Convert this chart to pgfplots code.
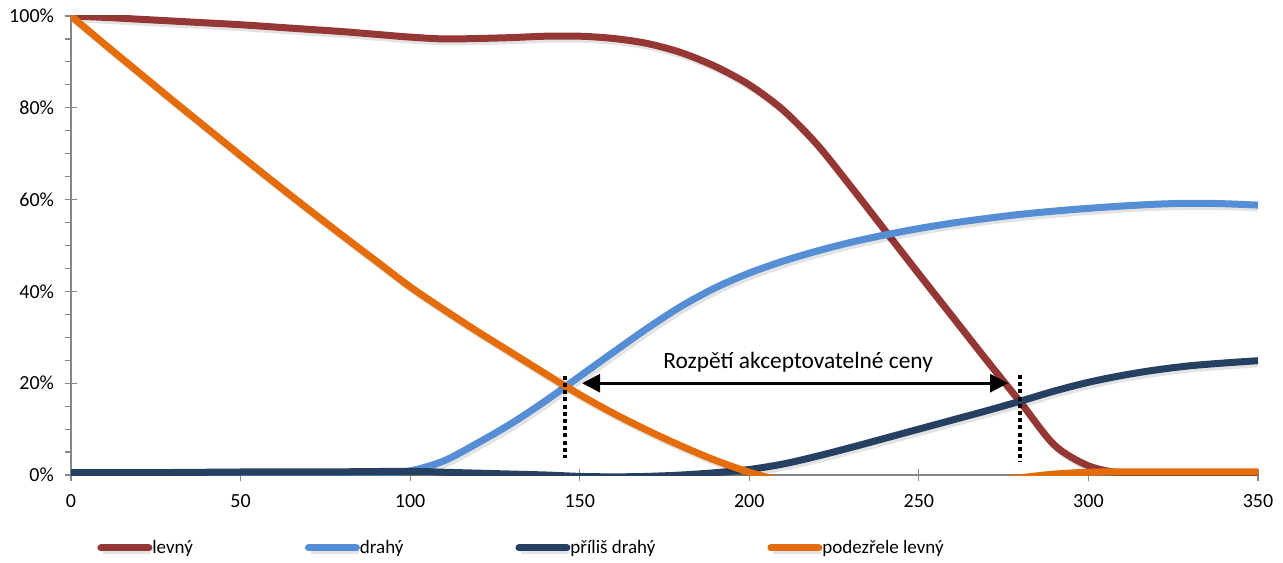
\documentclass[border=0pt]{standalone}
\usepackage{fontspec}
\setmainfont{Carlito}
\usepackage{pgfplots}
\usepackage{pgfplotstable}
\pgfplotsset{compat=1.18}
\usetikzlibrary{arrows.meta}
\definecolor{levny}{HTML}{953735}
\definecolor{drahy}{HTML}{558ED5}
\definecolor{prilis}{HTML}{254061}
\definecolor{podez}{HTML}{E46C0A}
\definecolor{axgray}{HTML}{868686}

\pgfplotstableread{
x y
0 100
10 99.7
20 99.3
30 98.9
40 98.5
50 98.1
60 97.6
70 97.1
80 96.6
90 96.0
100 95.4
110 95.0
120 95.1
130 95.3
140 95.6
150 95.6
160 95.1
170 94.0
180 92.0
190 89.0
200 85.0
210 79.5
220 72.0
230 62.8
240 53.3
250 43.8
260 34.4
270 25.0
280 15.8
290 6.5
300 2.0
310 0.4
320 0.4
330 0.4
340 0.4
350 0.4
}\levnytab

\pgfplotstableread{
x y
0 0.4
20 0.4
40 0.4
60 0.4
80 0.4
90 0.4
100 0.9
110 3.1
120 7.0
130 11.3
140 16.2
150 21.5
160 26.8
170 32.0
180 36.8
190 40.8
200 44.0
210 46.6
220 48.8
230 50.7
240 52.3
250 53.7
260 54.9
270 55.9
280 56.8
290 57.5
300 58.1
310 58.6
320 59.0
330 59.2
340 59.1
350 58.8
}\drahytab

\pgfplotstableread{
x y
0 0.5
20 0.5
40 0.6
60 0.7
80 0.7
100 0.8
110 0.6
120 0.4
130 0.2
140 0.0
150 -0.3
160 -0.4
170 -0.3
180 0.0
190 0.5
200 1.2
210 2.4
220 4.1
230 6.0
240 8.0
250 10.0
260 12.0
270 14.0
280 16.1
290 18.3
300 20.2
310 21.7
320 22.9
330 23.8
340 24.4
350 24.9
}\prilistab

\pgfplotstableread{
x y
0 100
10 93.8
20 87.7
30 81.6
40 75.6
50 69.6
60 63.7
70 57.9
80 52.2
90 46.6
100 41.0
110 36.0
120 31.2
130 26.6
140 22.0
150 17.5
160 13.4
170 9.7
180 6.3
190 3.2
200 0.6
210 -1.3
220 -2.1
230 -2.6
240 -2.8
250 -2.6
260 -2.2
270 -1.5
280 -0.6
290 0.2
300 0.6
310 0.7
320 0.7
330 0.7
340 0.7
350 0.7
}\podeztab

\tikzset{shad/.style={preaction={draw=black, draw opacity=0.11, transform canvas={shift={(1.1pt,-1.5pt)}}}}}

\begin{document}
\begin{tikzpicture}
\begin{axis}[
  scale only axis,
  width=593.5pt, height=229.5pt,
  xmin=0, xmax=350, ymin=0, ymax=100,
  axis x line*=bottom, axis y line*=left,
  axis line style={axgray, line width=0.6pt},
  xtick={0,50,...,350},
  ytick={0,20,...,100},
  minor y tick num=3,
  tick style={axgray, line width=0.6pt},
  tick align=center,
  major tick length=6pt,
  minor tick length=3pt,
  minor y tick style={xshift=-1.5pt},
  yticklabel={\pgfmathprintnumber{\tick}\%},
  /pgf/number format/assume math mode=true,
  ticklabel style={font=\fontsize{10}{12}\selectfont, black},
  yticklabel style={xshift=-2pt},
  xticklabel style={yshift=-3pt},
  clip=true,
  legend columns=4,
  legend style={draw=none, fill=none, inner sep=0pt,
    at={(0.0219,-0.159)}, anchor=west,
    font=\fontsize{9.5}{11}\selectfont,
    /tikz/every odd column/.append style={column sep=-2pt},
    /tikz/every even column/.append style={column sep=54pt}},
  legend cell align=left,
  legend image code/.code={\draw[#1, line cap=round] (0pt,0pt) -- (24pt,0pt);},
  every axis plot/.append style={line width=3.5pt, line join=round},
]
\addplot[levny, smooth, shad] table[x=x,y=y] {\levnytab};
\addlegendentry{levný}
\addplot[drahy, smooth, shad] table[x=x,y=y] {\drahytab};
\addlegendentry{drahý}
\addplot[prilis, smooth, shad] table[x=x,y=y] {\prilistab};
\addlegendentry{příliš drahý}
\addplot[podez, smooth, shad] table[x=x,y=y] {\podeztab};
\addlegendentry{podezřele levný}

\draw[black, line width=2pt, dash pattern=on 2pt off 1.6pt] (axis cs:145.7,21.6) -- (axis cs:145.7,3.7);
\draw[black, line width=2pt, dash pattern=on 2pt off 1.6pt] (axis cs:279.8,21.8) -- (axis cs:279.8,2.8);
\draw[black, line width=1.5pt, {Triangle[length=9pt,width=9pt]}-{Triangle[length=9pt,width=9pt]}] (axis cs:150.7,20) -- (axis cs:276.3,20);
\node[font=\fontsize{11.7}{14}\selectfont, anchor=base] at (axis cs:214.4,23.2) {Rozpětí akceptovatelné ceny};
\end{axis}
\path[use as bounding box] (current axis.south west) ++(-35.5pt,-43.5pt) rectangle ([xshift=12.5pt,yshift=8pt]current axis.north east);
\end{tikzpicture}
\end{document}
